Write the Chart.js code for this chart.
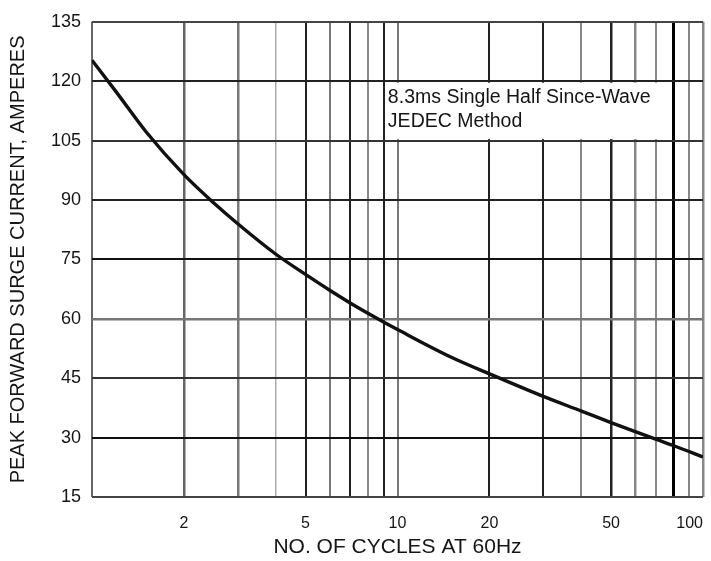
<!DOCTYPE html>
<html>
<head>
<meta charset="utf-8">
<script src="https://cdn.jsdelivr.net/npm/chart.js@4.4.1/dist/chart.umd.min.js"></script>
<style>
  html, body { margin: 0; padding: 0; background: #ffffff; }
  #wrap { width: 711px; height: 561px; }
</style>
</head>
<body>
<div id="wrap"><canvas id="c" width="711" height="561"></canvas></div>
<script>
// ---- data ----
const cycles = [1, 1.2, 1.5, 2, 2.5, 3, 4, 5, 6, 7, 8, 9, 10, 15, 20, 30, 40, 50, 60, 70, 80, 100];
const surgeCurrent = [125.3, 117.3, 107.3, 96.4, 89.3, 84.0, 76.3, 71.2, 67.2, 64.0, 61.4, 59.2, 57.3, 50.3, 46.1, 40.4, 36.7, 33.8, 31.5, 29.6, 28.0, 25.1];
const xGridValues = [1, 2, 3, 4, 5, 6, 7, 8, 9, 10, 20, 30, 40, 50, 60, 70, 80, 90, 100];
const xTickLabels = [2, 5, 10, 20, 50, 100];
const yTickValues = [15, 30, 45, 60, 75, 90, 105, 120, 135];
const noteLines = ['8.3ms Single Half Since-Wave', 'JEDEC Method'];
const yTitle = 'PEAK FORWARD SURGE CURRENT, AMPERES';
const xTitle = 'NO. OF CYCLES AT 60Hz';

// ---- styles (grid appearance of the scanned sheet) ----
const vGridStyle = {
  1: ['#666', 2], 2: ['#666', 2.5], 3: ['#777', 2.5], 4: ['#aaa', 1.5], 5: ['#222', 2],
  6: ['#777', 2], 7: ['#222', 2], 8: ['#888', 2], 9: ['#222', 2], 10: ['#777', 2],
  20: ['#222', 2], 30: ['#222', 2], 40: ['#888', 2], 50: ['#222', 2.5], 60: ['#888', 2.5],
  70: ['#888', 2], 80: ['#000', 3], 90: ['#888', 2], 100: ['#888', 2.5]
};
const hGridStyle = {
  15: ['#444', 2], 30: ['#111', 2], 45: ['#333', 2], 60: ['#777', 2.5], 75: ['#111', 2],
  90: ['#222', 2], 105: ['#333', 2], 120: ['#222', 2], 135: ['#444', 2]
};
const FONT = '"Liberation Sans", Arial, Helvetica, sans-serif';
const INK = '#151515';

const notePlugin = {
  id: 'note',
  beforeDatasetsDraw(chart) {
    const { ctx, scales: { x, y } } = chart;
    const x0 = x.getPixelForValue(9.2), x1 = x.getPixelForValue(78);
    const y0 = y.getPixelForValue(120) + 1.5, y1 = y.getPixelForValue(105) - 1.5;
    ctx.save();
    ctx.fillStyle = '#ffffff';
    ctx.fillRect(x0, y0, x1 - x0, y1 - y0);
    ctx.fillStyle = INK;
    ctx.font = '19.5px ' + FONT;
    ctx.textAlign = 'left';
    ctx.textBaseline = 'middle';
    const tx = x.getPixelForValue(9.3);
    ctx.fillText(noteLines[0], tx, y.getPixelForValue(115.8));
    ctx.fillText(noteLines[1], tx, y.getPixelForValue(109.8));
    ctx.restore();
  }
};

new Chart(document.getElementById('c'), {
  type: 'line',
  data: {
    datasets: [{
      data: cycles.map((c, i) => ({ x: c, y: surgeCurrent[i] })),
      borderColor: '#111',
      borderWidth: 3.4,
      pointRadius: 0,
      cubicInterpolationMode: 'monotone',
      fill: false
    }]
  },
  options: {
    responsive: false,
    animation: false,
    devicePixelRatio: 1,
    layout: { padding: { left: 4, right: 8, top: 16, bottom: 1 } },
    plugins: { legend: { display: false }, tooltip: { enabled: false } },
    scales: {
      x: {
        type: 'logarithmic',
        min: 1,
        max: 100,
        afterBuildTicks: (s) => { s.ticks = xGridValues.map(v => ({ value: v })); },
        afterFit: (s) => { s.height = 63; s.paddingLeft = 0; s.paddingRight = 0; },
        border: { display: false },
        grid: {
          drawTicks: false,
          color: (c) => (vGridStyle[c.tick && c.tick.value] || ['#888', 2])[0],
          lineWidth: (c) => (vGridStyle[c.tick && c.tick.value] || ['#888', 2])[1]
        },
        ticks: {
          autoSkip: false,
          maxRotation: 0,
          align: 'inner',
          padding: 17,
          color: INK,
          font: { family: FONT, size: 16 },
          callback: (v) => xTickLabels.includes(v) ? String(v) : ''
        },
        title: {
          display: true,
          text: xTitle,
          color: INK,
          font: { family: FONT, size: 21 },
          padding: { top: 0, bottom: 0 }
        }
      },
      y: {
        type: 'linear',
        min: 15,
        max: 135,
        afterBuildTicks: (s) => { s.ticks = yTickValues.map(v => ({ value: v })); },
        afterFit: (s) => { s.width = 88; },
        border: { display: false },
        grid: {
          drawTicks: false,
          color: (c) => (hGridStyle[c.tick && c.tick.value] || ['#333', 2])[0],
          lineWidth: (c) => (hGridStyle[c.tick && c.tick.value] || ['#333', 2])[1]
        },
        ticks: {
          padding: 11,
          color: INK,
          font: { family: FONT, size: 18 },
          callback: (v) => String(v)
        },
        title: {
          display: true,
          text: yTitle,
          color: INK,
          font: { family: FONT, size: 20 },
          padding: { top: 2, bottom: 0 }
        }
      }
    }
  },
  plugins: [notePlugin]
});
</script>
</body>
</html>
